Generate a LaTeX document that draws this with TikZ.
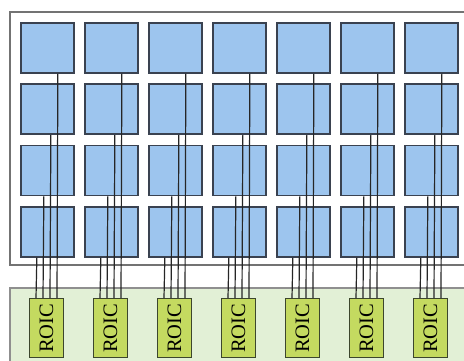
\documentclass[tikz,border=0pt]{standalone}
\usepackage{fontspec}
\setmainfont{Liberation Serif}
\definecolor{pixblue}{RGB}{157,197,238}
\definecolor{pixedge}{RGB}{58,66,80}
\definecolor{panelgreen}{RGB}{226,240,214}
\definecolor{roicfill}{RGB}{196,218,96}
\definecolor{roicedge}{RGB}{60,70,45}
\definecolor{framegray}{RGB}{115,115,115}
\tikzset{
  pixel/.style={draw=pixedge, line width=1.7pt, fill=pixblue, minimum width=53pt, minimum height=50pt, inner sep=0pt, anchor=north west},
  roicbox/.style={draw=roicedge, line width=1.4pt, fill=roicfill, minimum width=34pt, minimum height=59pt, inner sep=0pt, anchor=north},
  wire/.style={draw=black!85, line width=1.2pt},
}
\begin{document}
\begin{tikzpicture}[x=1pt,y=-1pt]
\useasboundingbox (0,0) rectangle (464,360);
\begin{scope}
\clip (0,0) rectangle (464,360);
\fill[white] (0,0) rectangle (464,360);
\draw[framegray, line width=1.6pt, fill=white] (10,12) rectangle (470,265);
\draw[framegray!80, line width=1.5pt, fill=panelgreen] (10,288) rectangle (470,370);
\foreach \c in {1,...,7} {
  \foreach \r in {1,...,4} {
    \node[pixel] (p-\c-\r) at ({20+64*(\c-1)}, {22+61.33*(\r-1)}) {};
  }
  \node[roicbox, font=\fontsize{20.5}{20.5}\selectfont] (roic-\c) at ({46.5+64*(\c-1)}, 298) {\rotatebox{90}{ROIC}};
}
\foreach \c in {1,...,7} {
  \foreach \r/\o in {1/10.5,2/3.5,3/-3.5,4/-10.5} {
    \draw[wire] ([xshift=\o pt]p-\c-\r.south) -- ([xshift=\o pt]roic-\c.north);
  }
}
\end{scope}
\end{tikzpicture}
\end{document}
